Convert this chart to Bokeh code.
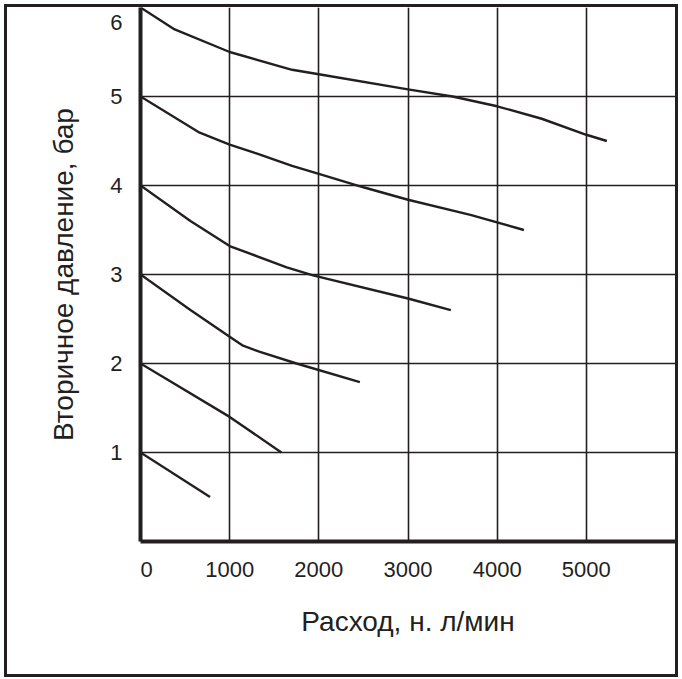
from bokeh.plotting import figure
from bokeh.models import Range1d, FixedTicker
from bokeh.embed import file_html
from bokeh.resources import INLINE

# data (flow, n.l/min ; pressure, bar)
x6 = [0, 370, 1000, 1700, 2000, 3000, 3500, 4000, 4500, 5000, 5230]
y6 = [6.0, 5.76, 5.50, 5.30, 5.25, 5.08, 5.0, 4.89, 4.75, 4.57, 4.50]
x5 = [0, 650, 1000, 1300, 1700, 2000, 2500, 3000, 3700, 4300]
y5 = [5.0, 4.6, 4.46, 4.36, 4.22, 4.13, 3.98, 3.84, 3.67, 3.50]
x4 = [0, 560, 1000, 1640, 1935, 3000, 3480]
y4 = [4.0, 3.6, 3.32, 3.08, 2.99, 2.73, 2.60]
x3 = [0, 560, 1000, 1150, 1340, 1750, 2460]
y3 = [3.0, 2.6, 2.30, 2.20, 2.13, 2.0, 1.79]
x2 = [0, 1000, 1580]
y2 = [2.0, 1.40, 1.0]
x1 = [0, 780]
y1 = [1.0, 0.5]
curves = [(x6, y6), (x5, y5), (x4, y4), (x3, y3), (x2, y2), (x1, y1)]

x_ticks = [0, 1000, 2000, 3000, 4000, 5000]
y_ticks = [1, 2, 3, 4, 5, 6]
x_grid = [1000, 2000, 3000, 4000, 5000]
y_grid = [1, 2, 3, 4, 5]
x_max, y_max = 6000, 6
x_title = "Расход, н. л/мин"
y_title = "Вторичное давление, бар"

FONT = "Liberation Sans"
INK = "#231f20"

W, H = 674, 673
ML, MR, MB = 133, 6, 139
plot_w, plot_h = W - ML - MR, H - MB - 6

p = figure(width=W, height=H, output_backend="svg", toolbar_location=None,
           x_range=Range1d(0, x_max), y_range=Range1d(0, y_max),
           min_border_left=ML, min_border_right=MR, min_border_top=0,
           min_border_bottom=MB)
p.styles = {"border": "3px solid " + INK, "margin-left": "4px", "margin-top": "4px"}
p.outline_line_color = None
p.background_fill_color = "white"
p.border_fill_color = "white"

# the end labels sit a little inside the corner, as in the reference
x_first_pos = x_ticks[0] + 6 * x_max / plot_w
y_last_pos = y_ticks[-1] - 15 * y_max / plot_h
x_pos = [x_first_pos] + x_ticks[1:]
y_pos = y_ticks[:-1] + [y_last_pos]
p.xaxis.ticker = FixedTicker(ticks=x_pos)
p.yaxis.ticker = FixedTicker(ticks=y_pos)
p.xaxis.major_label_overrides = {pos: str(t) for pos, t in zip(x_pos, x_ticks)}
p.yaxis.major_label_overrides = {pos: str(t) for pos, t in zip(y_pos, y_ticks)}

for ax in (p.xaxis, p.yaxis):
    ax.axis_line_width = 4
    ax.axis_line_color = INK
    ax.major_tick_in = 0
    ax.major_tick_out = 0
    ax.minor_tick_in = 0
    ax.minor_tick_out = 0
    ax.major_label_text_font = FONT
    ax.major_label_text_font_size = "22px"
    ax.major_label_text_color = INK
    ax.axis_label_text_font = FONT
    ax.axis_label_text_font_size = "28px"
    ax.axis_label_text_font_style = "normal"
    ax.axis_label_text_color = INK

p.xaxis.axis_label = x_title
p.yaxis.axis_label = y_title
p.xaxis.major_label_standoff = 20
p.yaxis.major_label_standoff = 18
p.xaxis.axis_label_standoff = 26
p.yaxis.axis_label_standoff = 28

p.xgrid.ticker = FixedTicker(ticks=x_grid)
p.ygrid.ticker = FixedTicker(ticks=y_grid)
for g in (p.xgrid, p.ygrid):
    g.grid_line_color = INK
    g.grid_line_width = 1.6
    g.grid_line_alpha = 1.0

for xs, ys in curves:
    p.line(xs, ys, line_color=INK, line_width=2.4)

open("out.html", "w").write(file_html(p, INLINE))
